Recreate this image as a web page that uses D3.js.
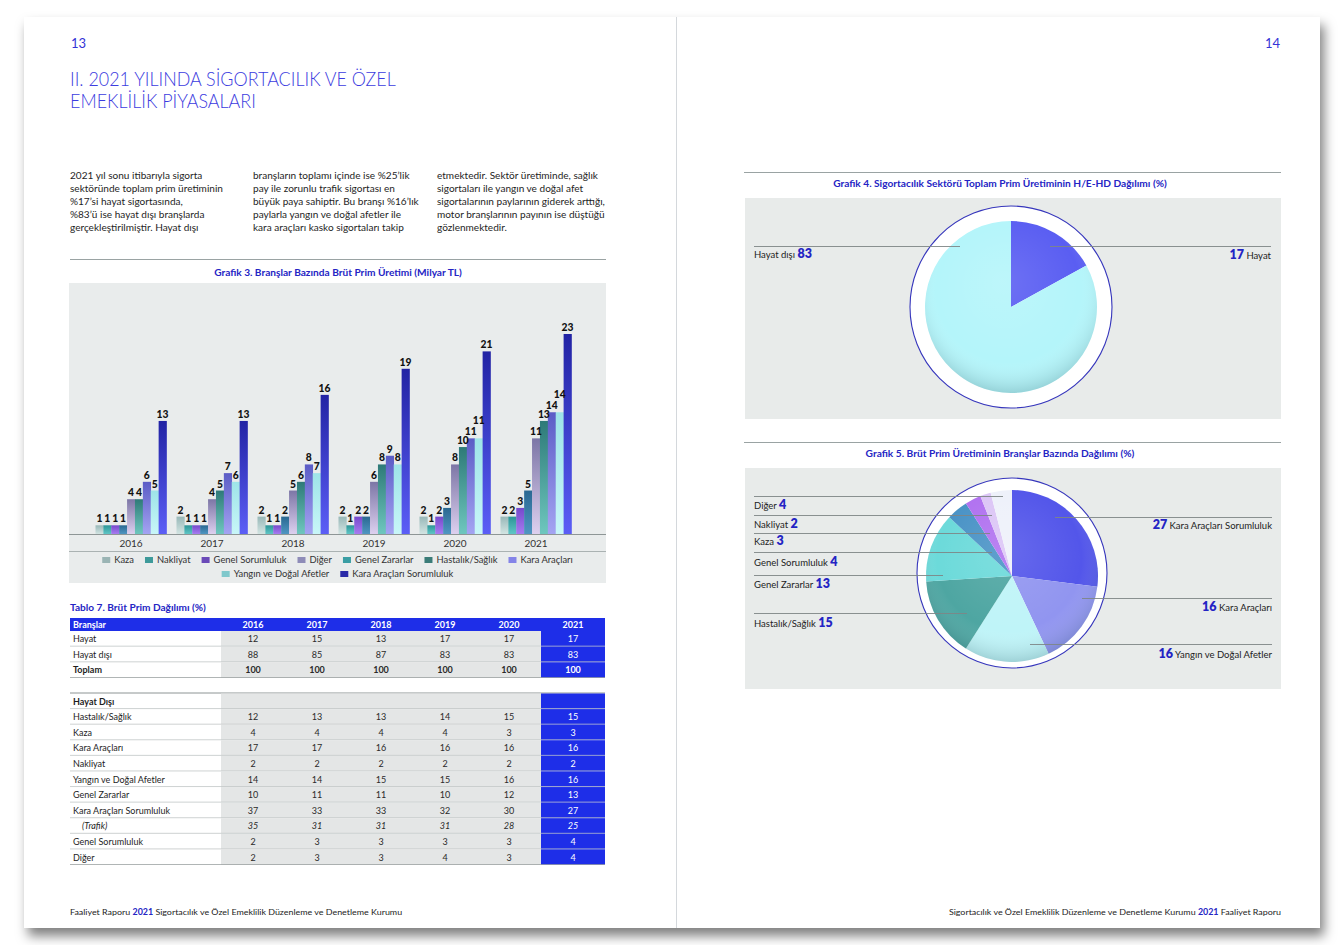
<!DOCTYPE html>
<html><head><meta charset="utf-8">
<script src="https://cdn.jsdelivr.net/npm/d3@7"></script>
<style>body{margin:0;background:#fff;} svg{display:block;font-family:Lato,"Open Sans",sans-serif;}</style>
</head><body><svg id="c" width="1344" height="945"></svg>
<script>
// ---------------- DATA ----------------
const years = ["2016","2017","2018","2019","2020","2021"];
const series = ["Kaza","Nakliyat","Genel Sorumluluk","Diğer","Genel Zararlar","Hastalık/Sağlık","Kara Araçları","Yangın ve Doğal Afetler","Kara Araçları Sorumluluk"];
const kaza = [1,2,2,2,2,2];
const nakliyat = [1,1,1,1,1,2];
const genelSorumluluk = [1,1,1,2,2,3];
const diger = [1,1,2,2,3,5];
const genelZararlar = [4,4,5,6,8,11];
const hastalikSaglik = [4,5,6,8,10,13];
const karaAraclari = [6,7,8,9,11,14];
const yangin = [5,6,7,8,11,14];
const karaAraclariSorumluluk = [13,13,16,19,21,23];
const seriesValues = [kaza,nakliyat,genelSorumluluk,diger,genelZararlar,hastalikSaglik,karaAraclari,yangin,karaAraclariSorumluluk];

const tableTopLabels = ["Hayat","Hayat dışı","Toplam"];
const hayat = [12,15,13,17,17,17];
const hayatDisi = [88,85,87,83,83,83];
const toplam = [100,100,100,100,100,100];

const tableBottomLabels = ["Hastalık/Sağlık","Kaza","Kara Araçları","Nakliyat","Yangın ve Doğal Afetler","Genel Zararlar","Kara Araçları Sorumluluk","(Trafik)","Genel Sorumluluk","Diğer"];
const tb = [
  [12,13,13,14,15,15],
  [4,4,4,4,3,3],
  [17,17,16,16,16,16],
  [2,2,2,2,2,2],
  [14,14,15,15,16,16],
  [10,11,11,10,12,13],
  [37,33,33,32,30,27],
  [35,31,31,31,28,25],
  [2,3,3,3,3,4],
  [2,3,3,4,3,4]
];

const pie4Labels = ["Hayat","Hayat dışı"];
const pie4Values = [17,83];
const pie5Labels = ["Kara Araçları Sorumluluk","Kara Araçları","Yangın ve Doğal Afetler","Hastalık/Sağlık","Genel Zararlar","Genel Sorumluluk","Kaza","Nakliyat","Diğer"];
const pie5Values = [27,16,16,15,13,4,3,2,4];

const paragraphCols = [
 ["2021 yıl sonu itibarıyla sigorta","sektöründe toplam prim üretiminin","%17’si hayat sigortasında,","%83’ü ise hayat dışı branşlarda","gerçekleştirilmiştir. Hayat dışı"],
 ["branşların toplamı içinde ise %25’lik","pay ile zorunlu trafik sigortası en","büyük paya sahiptir. Bu branşı %16’lık","paylarla yangın ve doğal afetler ile","kara araçları kasko sigortaları takip"],
 ["etmektedir. Sektör üretiminde, sağlık","sigortaları ile yangın ve doğal afet","sigortalarının paylarının giderek arttığı,","motor branşlarının payının ise düştüğü","gözlenmektedir."]
];

// ---------------- STYLE ----------------
const BLUE = "#3434d6", DBLUE = "#2424c4", TBLUE = "#1e2ee8";
const barGrad = [["#98b8b8","#d2e4e2"],["#2c9597","#5fc6c6"],["#7649cc","#a77cf0"],["#2a6892","#4f96c2"],["#7c76a6","#ddd0ef"],["#2e7a78","#6ec7be"],["#5b5cc6","#a4a4f2"],["#9ee4e8","#c8f6f8"],["#2223a4","#5b5ef6"]];
const legendColors = ["#9ab4b4","#3d9a9a","#6a4ab8","#8e8cb8","#3a9ea4","#3a7c78","#8484e8","#7fc8cc","#2a2aa8"];
const pie4Colors = ["#5a5ef2","#b4f5fa"];
const pie5Colors = ["#5356ea","#9195f0","#bff4f8","#4ea6a2","#6cdada","#4a93c6","#b172f0","#dcc6f6","#eef1fa"];

const svg = d3.select("#c");
const defs = svg.append("defs");
function squeeze(t, w, ax){
  const bw = t.node().getComputedTextLength();
  if (bw > 0){ const k = w / bw; t.attr("transform", `translate(${ax},0) scale(${k},1) translate(${-ax},0)`); return k; }
  return 1;
}
function scaleBy(t, k, ax){ t.attr("transform", `translate(${ax},0) scale(${k},1) translate(${-ax},0)`); }

// page
const f = defs.append("filter").attr("id","sh").attr("x","-5%").attr("y","-5%").attr("width","112%").attr("height","118%");
f.append("feDropShadow").attr("dx",4).attr("dy",8).attr("stdDeviation",6).attr("flood-color","#000").attr("flood-opacity",0.5);
svg.append("rect").attr("x",24).attr("y",17).attr("width",1296).attr("height",911).attr("fill","#fff").attr("filter","url(#sh)");
svg.append("line").attr("x1",676.5).attr("x2",676.5).attr("y1",17).attr("y2",928).attr("stroke","#d4d8dc");

// page numbers
svg.append("text").attr("x",71).attr("y",48).attr("font-size",13).attr("fill",BLUE).text("13");
svg.append("text").attr("x",1280).attr("y",48).attr("font-size",13).attr("fill",BLUE).attr("text-anchor","end").text("14");

// title
const t1 = svg.append("text").attr("x",70).attr("y",86).attr("font-size",19.5).attr("font-weight",300).attr("fill","#3c3ce0").text("II. 2021 YILINDA SİGORTACILIK VE ÖZEL");
const kT = squeeze(t1, 326, 70);
const t2 = svg.append("text").attr("x",70).attr("y",108).attr("font-size",19.5).attr("font-weight",300).attr("fill","#3c3ce0").text("EMEKLİLİK PİYASALARI");
scaleBy(t2, kT, 70);

// paragraph
const colX = [70,253,437];
const probe = svg.append("text").attr("font-size",9.8).text(paragraphCols[2][2]);
const kP = 168 / probe.node().getComputedTextLength(); probe.remove();
paragraphCols.forEach((lines,ci)=>{
  lines.forEach((s,li)=>{
    const t = svg.append("text").attr("x",colX[ci]).attr("y",179+li*13).attr("font-size",9.8).attr("fill","#1e1e1e").text(s);
    scaleBy(t, kP, colX[ci]);
  });
});

// ---------------- CHART 3 ----------------
svg.append("line").attr("x1",70).attr("x2",606).attr("y1",259.5).attr("y2",259.5).attr("stroke","#9aa3a3");
const g3t = svg.append("text").attr("x",338).attr("y",276).attr("font-size",9.5).attr("font-weight",700).attr("fill",DBLUE).attr("text-anchor","middle").text("Grafik 3. Branşlar Bazında Brüt Prim Üretimi (Milyar TL)");
squeeze(g3t, 248, 338);
svg.append("rect").attr("x",69).attr("y",283).attr("width",537).attr("height",300).attr("fill","#e9ecec");

barGrad.forEach((c,i)=>{
  const lg = defs.append("linearGradient").attr("id","bg"+i).attr("x1",0).attr("y1",0).attr("x2",0).attr("y2",1);
  lg.append("stop").attr("offset","0%").attr("stop-color",c[0]);
  lg.append("stop").attr("offset","100%").attr("stop-color",c[1]);
});

const x0 = d3.scaleBand().domain(years).range([90.5,576.5]).paddingInner(0.123).paddingOuter(0.0617);
const x1 = d3.scaleBand().domain(series).range([0,x0.bandwidth()]);
const y = d3.scaleLinear().domain([0,23]).range([534,334]);

const gBars = svg.append("g");
years.forEach((yr,yi)=>{
  const gg = gBars.append("g").attr("transform",`translate(${x0(yr)},0)`);
  series.forEach((s,si)=>{
    const v = seriesValues[si][yi];
    gg.append("rect").attr("x",x1(s)).attr("y",y(v)).attr("width",x1.bandwidth()+0.3).attr("height",y(0)-y(v)).attr("fill",`url(#bg${si})`);
  });
  series.forEach((s,si)=>{
    const v = seriesValues[si][yi];
    let off = 0;
    if (si>0 && v>=10 && seriesValues[si-1][yi]===v) off = 11;
    gg.append("text").attr("x",x1(s)+x1.bandwidth()/2).attr("y",y(v)-3-off).attr("text-anchor","middle")
      .attr("font-size",10.3).attr("font-weight",900).attr("fill","#111").text(v);
  });
});
const ax = svg.append("g").attr("transform","translate(0,534)").call(d3.axisBottom(x0).tickSize(0).tickPadding(6));
ax.select(".domain").remove();
ax.selectAll("text").attr("font-size",10).attr("fill","#333").attr("font-family","Lato, sans-serif");
svg.append("line").attr("x1",69).attr("x2",606).attr("y1",534.5).attr("y2",534.5).attr("stroke","#8e9696");
svg.append("line").attr("x1",69).attr("x2",606).attr("y1",551.5).attr("y2",551.5).attr("stroke","#aab2b2");

// legend
function legendRow(idxs, yy){
  const g = svg.append("g");
  let xx = 0; const gap = 11;
  idxs.forEach((i,k)=>{
    g.append("rect").attr("x",xx).attr("y",yy-6).attr("width",8).attr("height",6).attr("fill",legendColors[i]);
    const t = g.append("text").attr("x",xx+12).attr("y",yy).attr("font-size",9.4).attr("fill","#333").text(series[i]);
    xx += 12 + t.node().getComputedTextLength() + gap;
  });
  const w = xx - gap;
  g.attr("transform",`translate(${337.5 - w/2},0)`);
}
legendRow([0,1,2,3,4,5,6], 563);
legendRow([7,8], 577);

// ---------------- TABLE 7 ----------------
const tt = svg.append("text").attr("x",70).attr("y",611).attr("font-size",9.5).attr("font-weight",700).attr("fill",DBLUE).text("Tablo 7. Brüt Prim Dağılımı (%)");
squeeze(tt, 136, 70);
const cx = d3.scaleBand().domain(years).range([221,605]);
// header
svg.append("rect").attr("x",70).attr("y",618).attr("width",535).attr("height",13).attr("fill",TBLUE);
svg.append("text").attr("x",73).attr("y",628).attr("font-size",9).attr("font-weight",700).attr("fill","#fff").text("Branşlar");
years.forEach(yr=>svg.append("text").attr("x",cx(yr)+cx.bandwidth()/2).attr("y",628).attr("text-anchor","middle").attr("font-size",9).attr("font-weight",700).attr("fill","#fff").text(yr));

function tableRows(labels, data, y0, y1, opts){
  const ry = d3.scaleBand().domain(labels.map((l,i)=>i)).range([y0,y1]);
  labels.forEach((lab,i)=>{
    const yy = ry(i), h = ry.bandwidth();
    svg.append("rect").attr("x",221).attr("y",yy).attr("width",320).attr("height",h).attr("fill","#e4e6e6");
    svg.append("rect").attr("x",541).attr("y",yy).attr("width",64).attr("height",h).attr("fill",TBLUE);
    svg.append("line").attr("x1",70).attr("x2",605).attr("y1",yy+h-0.5).attr("y2",yy+h-0.5).attr("stroke", i===labels.length-1 ? "#9ca2a2" : "#c2c6c6").attr("stroke-width",0.8);
    const bold = opts.bold && opts.bold(i), ital = opts.italic && opts.italic(i);
    svg.append("text").attr("x", ital ? 82 : 73).attr("y",yy+h/2+3.3).attr("font-size",9).attr("fill","#1e1e1e")
      .attr("font-weight",bold?700:400).attr("font-style",ital?"italic":"normal").text(lab);
    if (data[i]) years.forEach((yr,yi)=>{
      svg.append("text").attr("x",cx(yr)+cx.bandwidth()/2).attr("y",yy+h/2+3.3).attr("text-anchor","middle").attr("font-size",9)
        .attr("font-weight",bold?700:400).attr("font-style",ital?"italic":"normal").attr("fill",yi===5?"#fff":"#2a2a2a").text(data[i][yi]);
    });
  });
}
tableRows(tableTopLabels, [hayat,hayatDisi,toplam], 631, 678, {bold:i=>i===2});
svg.append("line").attr("x1",70).attr("x2",605).attr("y1",693).attr("y2",693).attr("stroke","#8d9494").attr("stroke-width",1);
tableRows(["Hayat Dışı"].concat(tableBottomLabels), [null].concat(tb), 693.5, 865, {bold:i=>i===0, italic:i=>i===8});

// ---------------- PIE HELPERS ----------------
const shade = defs.append("radialGradient").attr("id","shade").attr("cx","50%").attr("cy","42%").attr("r","60%").attr("fx","45%").attr("fy","35%");
shade.append("stop").attr("offset","0%").attr("stop-color","#fff").attr("stop-opacity",0.12);
shade.append("stop").attr("offset","70%").attr("stop-color","#fff").attr("stop-opacity",0);
shade.append("stop").attr("offset","100%").attr("stop-color","#00323c").attr("stop-opacity",0.22);

function drawPie(cxp, cyp, outerR, ocx, ocy, r, labels, values, colors){
  svg.append("circle").attr("cx",ocx).attr("cy",ocy).attr("r",outerR).attr("fill","#fff").attr("stroke","#3636bc").attr("stroke-width",1.1);
  const arcs = d3.pie().sort(null).value(d=>d)(values);
  const arc = d3.arc().innerRadius(0).outerRadius(r);
  const g = svg.append("g").attr("transform",`translate(${cxp},${cyp})`);
  g.selectAll("path").data(arcs).enter().append("path").attr("d",arc).attr("fill",(d,i)=>colors[i]);
  g.append("circle").attr("r",r).attr("fill","url(#shade)");
}
function leftLabel(x, yLine, x2, yText, name, val){
  svg.append("line").attr("x1",x).attr("x2",x2).attr("y1",yLine+0.5).attr("y2",yLine+0.5).attr("stroke","#7e8686").attr("stroke-width",0.9);
  const t = svg.append("text").attr("x",x).attr("y",yText).attr("font-size",9.5).attr("fill","#222");
  t.append("tspan").text(name+" ");
  t.append("tspan").attr("font-size",12.5).attr("font-weight",800).attr("fill",DBLUE).text(val);
}
function rightLabel(x, yLine, x1p, yText, name, val){
  svg.append("line").attr("x1",x1p).attr("x2",x).attr("y1",yLine+0.5).attr("y2",yLine+0.5).attr("stroke","#7e8686").attr("stroke-width",0.9);
  const t = svg.append("text").attr("x",x).attr("y",yText).attr("font-size",9.5).attr("fill","#222").attr("text-anchor","end");
  t.append("tspan").attr("font-size",12.5).attr("font-weight",800).attr("fill",DBLUE).text(val);
  t.append("tspan").text(" "+name);
}

// ---------------- CHART 4 ----------------
svg.append("line").attr("x1",744).attr("x2",1281).attr("y1",172.5).attr("y2",172.5).attr("stroke","#9aa3a3");
const g4t = svg.append("text").attr("x",1000).attr("y",187).attr("font-size",9.5).attr("font-weight",700).attr("fill",DBLUE).attr("text-anchor","middle").text("Grafik 4. Sigortacılık Sektörü Toplam Prim Üretiminin H/E-HD Dağılımı (%)");
squeeze(g4t, 334, 1000);
svg.append("rect").attr("x",745).attr("y",198).attr("width",536).attr("height",221).attr("fill","#e8ebea");
drawPie(1011, 307, 101, 1011, 307, 86, pie4Labels, pie4Values, pie4Colors);
leftLabel(754, 246, 960, 258, pie4Labels[1], pie4Values[1]);
rightLabel(1271, 246, 1050, 259, pie4Labels[0], pie4Values[0]);

// ---------------- CHART 5 ----------------
svg.append("line").attr("x1",744).attr("x2",1281).attr("y1",442.5).attr("y2",442.5).attr("stroke","#9aa3a3");
const g5t = svg.append("text").attr("x",1000).attr("y",457).attr("font-size",9.5).attr("font-weight",700).attr("fill",DBLUE).attr("text-anchor","middle").text("Grafik 5. Brüt Prim Üretiminin Branşlar Bazında Dağılımı (%)");
squeeze(g5t, 269, 1000);
svg.append("rect").attr("x",745).attr("y",468).attr("width",536).attr("height",221).attr("fill","#e8ebea");
drawPie(1012, 576, 95, 1012, 573, 86, pie5Labels, pie5Values, pie5Colors);
leftLabel(754, 496, 1003, 509, pie5Labels[8], pie5Values[8]);
leftLabel(754, 515, 992, 528, pie5Labels[7], pie5Values[7]);
leftLabel(754, 533, 990, 545, pie5Labels[6], pie5Values[6]);
leftLabel(754, 552, 992, 566, pie5Labels[5], pie5Values[5]);
leftLabel(754, 575, 943, 588, pie5Labels[4], pie5Values[4]);
leftLabel(754, 613, 967, 627, pie5Labels[3], pie5Values[3]);
rightLabel(1272, 517, 1055, 529, pie5Labels[0], pie5Values[0]);
rightLabel(1272, 598, 1082, 611, pie5Labels[1], pie5Values[1]);
rightLabel(1272, 644, 1030, 658, pie5Labels[2], pie5Values[2]);

// ---------------- FOOTERS ----------------
const fl = svg.append("text").attr("x",70).attr("y",915).attr("font-size",8.5).attr("fill","#222");
fl.append("tspan").text("Faaliyet Raporu ");
fl.append("tspan").attr("font-weight",700).attr("fill",DBLUE).text("2021");
fl.append("tspan").text(" Sigortacılık ve Özel Emeklilik Düzenleme ve Denetleme Kurumu");
squeeze(fl, 333, 70);
const fr = svg.append("text").attr("x",1281).attr("y",915).attr("font-size",8.5).attr("fill","#222").attr("text-anchor","end");
fr.append("tspan").text("Sigortacılık ve Özel Emeklilik Düzenleme ve Denetleme Kurumu ");
fr.append("tspan").attr("font-weight",700).attr("fill",DBLUE).text("2021");
fr.append("tspan").text(" Faaliyet Raporu");
squeeze(fr, 333, 1281);
</script></body></html>
